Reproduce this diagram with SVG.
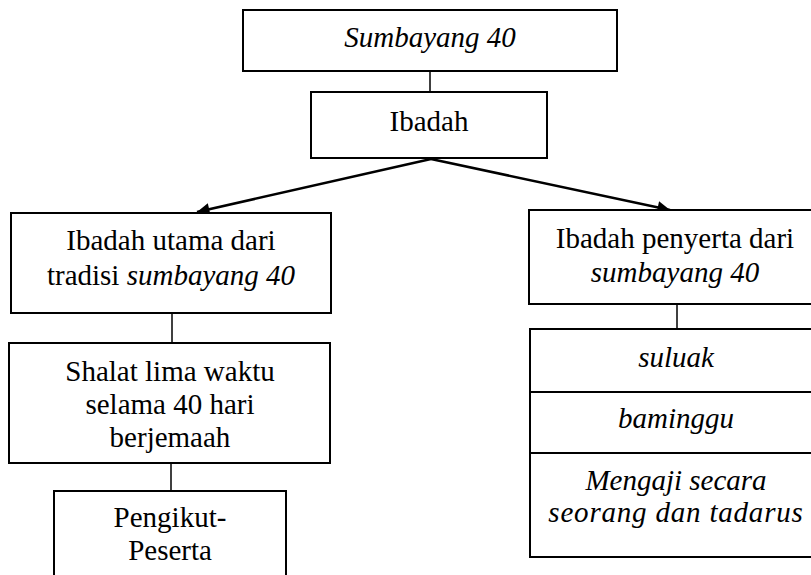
<svg xmlns="http://www.w3.org/2000/svg" width="811" height="575" viewBox="0 0 811 575">
<defs>
<marker id="ah" viewBox="0 0 10 10" refX="10" refY="5" markerWidth="6" markerHeight="5" markerUnits="strokeWidth" orient="auto">
<path d="M0,0 L10,5 L0,10 z" fill="#000"/>
</marker>
<style>
.box{fill:#fff;stroke:#000;stroke-width:2}
.ln{stroke:#000;stroke-width:1.5;fill:none}
.arr{stroke:#000;stroke-width:2.5;fill:none}
text{font-family:'Liberation Serif','DejaVu Serif',serif;font-size:29px;fill:#000;text-anchor:middle}
.i{font-style:italic}
</style>
</defs>
<rect width="811" height="575" fill="#fff"/>
<g id="connectors">
<line class="ln" x1="430" y1="71" x2="430" y2="92"/>
<line class="arr" x1="431" y1="159" x2="197" y2="212" marker-end="url(#ah)"/>
<line class="arr" x1="431" y1="159" x2="670" y2="210" marker-end="url(#ah)"/>
<line class="ln" x1="172" y1="313" x2="172" y2="343"/>
<line class="ln" x1="171" y1="463" x2="171" y2="491"/>
<line class="ln" x1="677" y1="304" x2="677" y2="329"/>
</g>
<g id="sumbayang40">
<rect class="box" x="243" y="10" width="374" height="61"/>
<text class="i" x="430" y="47">Sumbayang 40</text>
</g>
<g id="ibadah">
<rect class="box" x="311" y="92" width="236" height="66"/>
<text x="429" y="131">Ibadah</text>
</g>
<g id="ibadah-utama">
<rect class="box" x="11" y="213" width="320" height="100"/>
<text x="171" y="250">Ibadah utama dari</text>
<text x="171" y="285">tradisi <tspan class="i">sumbayang 40</tspan></text>
</g>
<g id="shalat">
<rect class="box" x="9" y="343" width="321" height="120"/>
<text x="170" y="381">Shalat lima waktu</text>
<text x="170" y="414">selama 40 hari</text>
<text x="170" y="447">berjemaah</text>
</g>
<g id="pengikut">
<rect class="box" x="54" y="491" width="232" height="100"/>
<text x="170" y="527">Pengikut-</text>
<text x="170" y="560">Peserta</text>
</g>
<g id="ibadah-penyerta">
<rect class="box" x="529" y="210" width="296" height="94"/>
<text x="675" y="248">Ibadah penyerta dari</text>
<text class="i" x="675" y="282">sumbayang 40</text>
</g>
<g id="penyerta-list">
<rect class="box" x="530" y="329" width="295" height="228"/>
<line class="box" x1="530" y1="392" x2="825" y2="392"/>
<line class="box" x1="530" y1="453" x2="825" y2="453"/>
<text class="i" x="676" y="367">suluak</text>
<text class="i" x="676" y="428">baminggu</text>
<text class="i" x="676" y="490">Mengaji secara</text>
<text class="i" x="676" y="522" letter-spacing="0.8">seorang dan tadarus</text>
</g>
</svg>
